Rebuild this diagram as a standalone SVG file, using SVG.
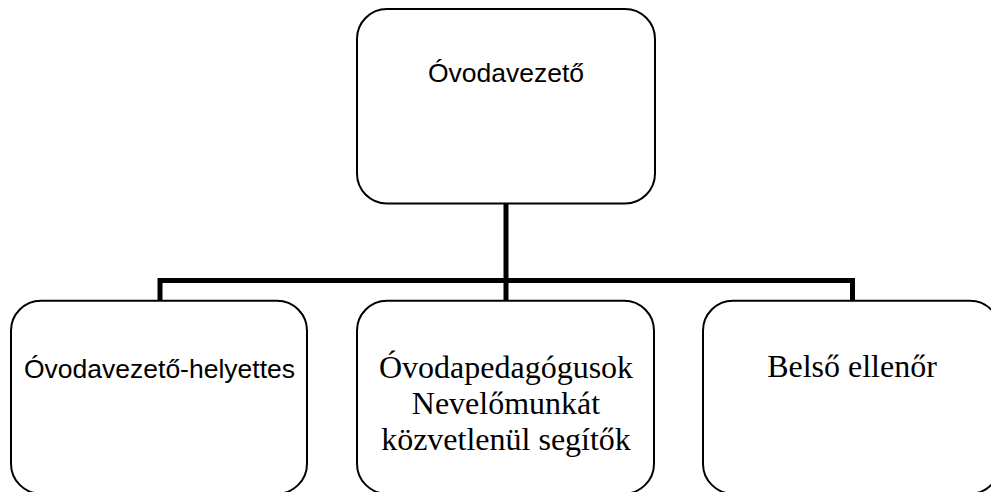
<svg xmlns="http://www.w3.org/2000/svg" width="991" height="492" viewBox="0 0 991 492">
<style>
.box{fill:#ffffff;stroke:#000000;stroke-width:2}
.sans{font-family:"Liberation Sans",Arial,sans-serif;font-size:26.5px;fill:#000000}
.serif{font-family:"Liberation Serif","Times New Roman",serif;font-size:32px;fill:#000000}
.conn{fill:none;stroke:#000000;stroke-width:5;stroke-linejoin:miter;stroke-linecap:butt}
</style>
<rect width="991" height="492" fill="#ffffff"/>
<g id="connectors">
<path class="conn" d="M506 203.5 V300"/>
<path class="conn" d="M160 301 V280.5 H852.5 V301"/>
</g>
<g id="n-ovodavezeto">
<rect class="box" x="357" y="9" width="298" height="194.5" rx="30" ry="30"/>
<text class="sans" x="506" y="82" text-anchor="middle">Óvodavezető</text>
</g>
<g id="n-helyettes">
<rect class="box" x="11" y="300.7" width="296" height="193" rx="30" ry="30"/>
<text class="sans" x="159.5" y="378" text-anchor="middle">Óvodavezető-helyettes</text>
</g>
<g id="n-pedagogusok">
<rect class="box" x="357" y="300.7" width="297" height="193" rx="30" ry="30"/>
<text class="serif" text-anchor="middle"><tspan x="506" y="377.5">Óvodapedagógusok</tspan><tspan x="506" y="413.5">Nevelőmunkát</tspan><tspan x="506" y="449.5">közvetlenül segítők</tspan></text>
</g>
<g id="n-ellenor">
<rect class="box" x="703" y="300.7" width="297" height="193" rx="30" ry="30"/>
<text class="serif" x="852" y="377" text-anchor="middle">Belső ellenőr</text>
</g>
</svg>
